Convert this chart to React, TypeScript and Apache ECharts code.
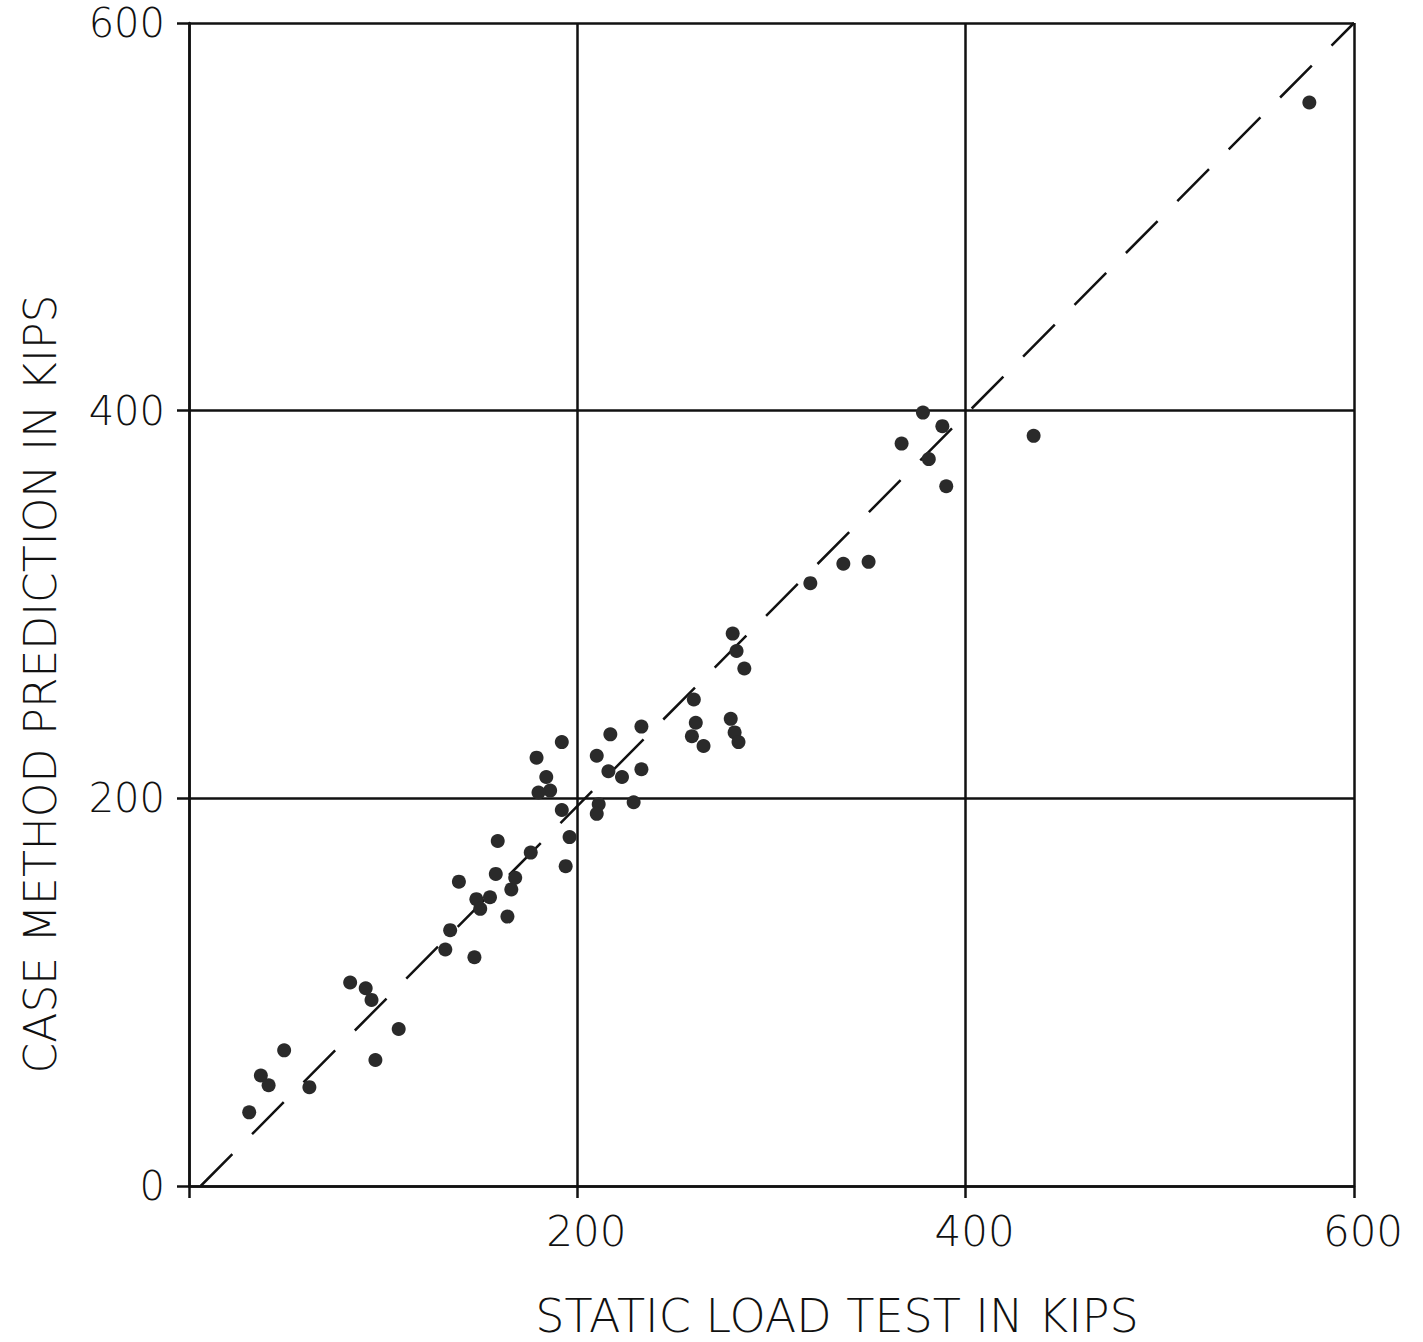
import React, { useEffect, useRef } from "react";
import * as echarts from "echarts";

// Static load test results (kips) and the matching Case Method predictions (kips)
const staticLoad = [
  31, 37, 41, 49, 62, 83, 91, 94, 96, 108,
  132, 134.5, 139, 147, 148, 155, 150, 158, 159, 164,
  166, 168, 176, 194, 196, 179, 192, 184, 186, 180,
  192, 210, 217, 233, 216, 223, 233, 211, 210, 229,
  260, 261, 259, 265, 279, 281, 283, 280, 282, 286,
  320, 337, 350, 367, 378, 381, 388, 390, 435, 577,
];
const casePrediction = [
  38, 57, 52, 70, 51, 105, 102, 96, 65, 81,
  122, 132, 157, 118, 148, 149, 143, 161, 178, 139,
  153, 159, 172, 165, 180, 221, 229, 211, 204, 203,
  194, 222, 233, 237, 214, 211, 215, 197, 192, 198,
  251, 239, 232, 227, 241, 234, 229, 285, 276, 267,
  311, 321, 322, 383, 399, 375, 392, 361, 387, 559,
];

// Equality reference line (dashed)
const lineX = [6, 600];
const lineY = [0, 600];

const tickValues = [0, 200, 400, 600];
const xTitle = "STATIC LOAD TEST IN KIPS";
const yTitle = "CASE METHOD PREDICTION IN KIPS";

const INK = "#111111";
const TEXT = "#111111";
const FONT = "DejaVu Sans";

export default function App() {
  const ref = useRef<HTMLDivElement>(null);

  useEffect(() => {
    if (!ref.current) return;
    const chart = echarts.init(ref.current, undefined, { renderer: "svg" });

    const points = staticLoad.map((x, i) => [x, casePrediction[i]]);
    const refLine = lineX.map((x, i) => [x, lineY[i]]);

    const axisCommon = {
      type: "value" as const,
      min: tickValues[0],
      max: tickValues[tickValues.length - 1],
      interval: tickValues[1] - tickValues[0],
      axisLine: { show: true, onZero: false, lineStyle: { color: INK, width: 2.5 } },
      axisTick: { show: true, inside: false, length: 12, lineStyle: { color: INK, width: 2.5 } },
      splitLine: { show: true, lineStyle: { color: INK, width: 2.5, type: "solid" as const } },
    };

    chart.setOption({
      animation: false,
      backgroundColor: "#ffffff",
      grid: { left: 189, top: 23, width: 1165, height: 1163, containLabel: false },
      xAxis: {
        ...axisCommon,
        axisLabel: {
          formatter: (v: number) => (v === 0 ? "" : String(v)),
          fontSize: 42,
          fontFamily: FONT,
          fontWeight: 200,
          color: TEXT,
          margin: 24,
          padding: [0, 0, 0, 18],
        },
      },
      yAxis: {
        ...axisCommon,
        axisLabel: {
          fontSize: 40,
          lineHeight: 36,
          fontFamily: FONT,
          fontWeight: 200,
          color: TEXT,
          margin: 24,
        },
      },
      graphic: [
        {
          type: "text",
          x: 837,
          y: 1316,
          style: {
            text: xTitle,
            fontSize: 46,
            fontFamily: FONT,
            fontWeight: 200,
            fill: TEXT,
            align: "center",
            verticalAlign: "middle",
          },
        },
        {
          type: "text",
          x: 40,
          y: 684,
          rotation: Math.PI / 2,
          style: {
            text: yTitle,
            fontSize: 44,
            fontFamily: FONT,
            fontWeight: 200,
            fill: TEXT,
            align: "center",
            verticalAlign: "middle",
          },
        },
      ],
      series: [
        {
          type: "line",
          data: refLine,
          symbol: "none",
          z: 2,
          lineStyle: { color: INK, width: 2.5, type: [45, 28] },
        },
        {
          type: "scatter",
          data: points,
          symbol: "circle",
          symbolSize: 14,
          z: 3,
          itemStyle: { color: "#2a2a2a", opacity: 1 },
        },
      ],
    });

    return () => chart.dispose();
  }, []);

  return (
    <div
      ref={ref}
      style={{ position: "fixed", left: 0, top: 0, width: 1423, height: 1342 }}
    />
  );
}
